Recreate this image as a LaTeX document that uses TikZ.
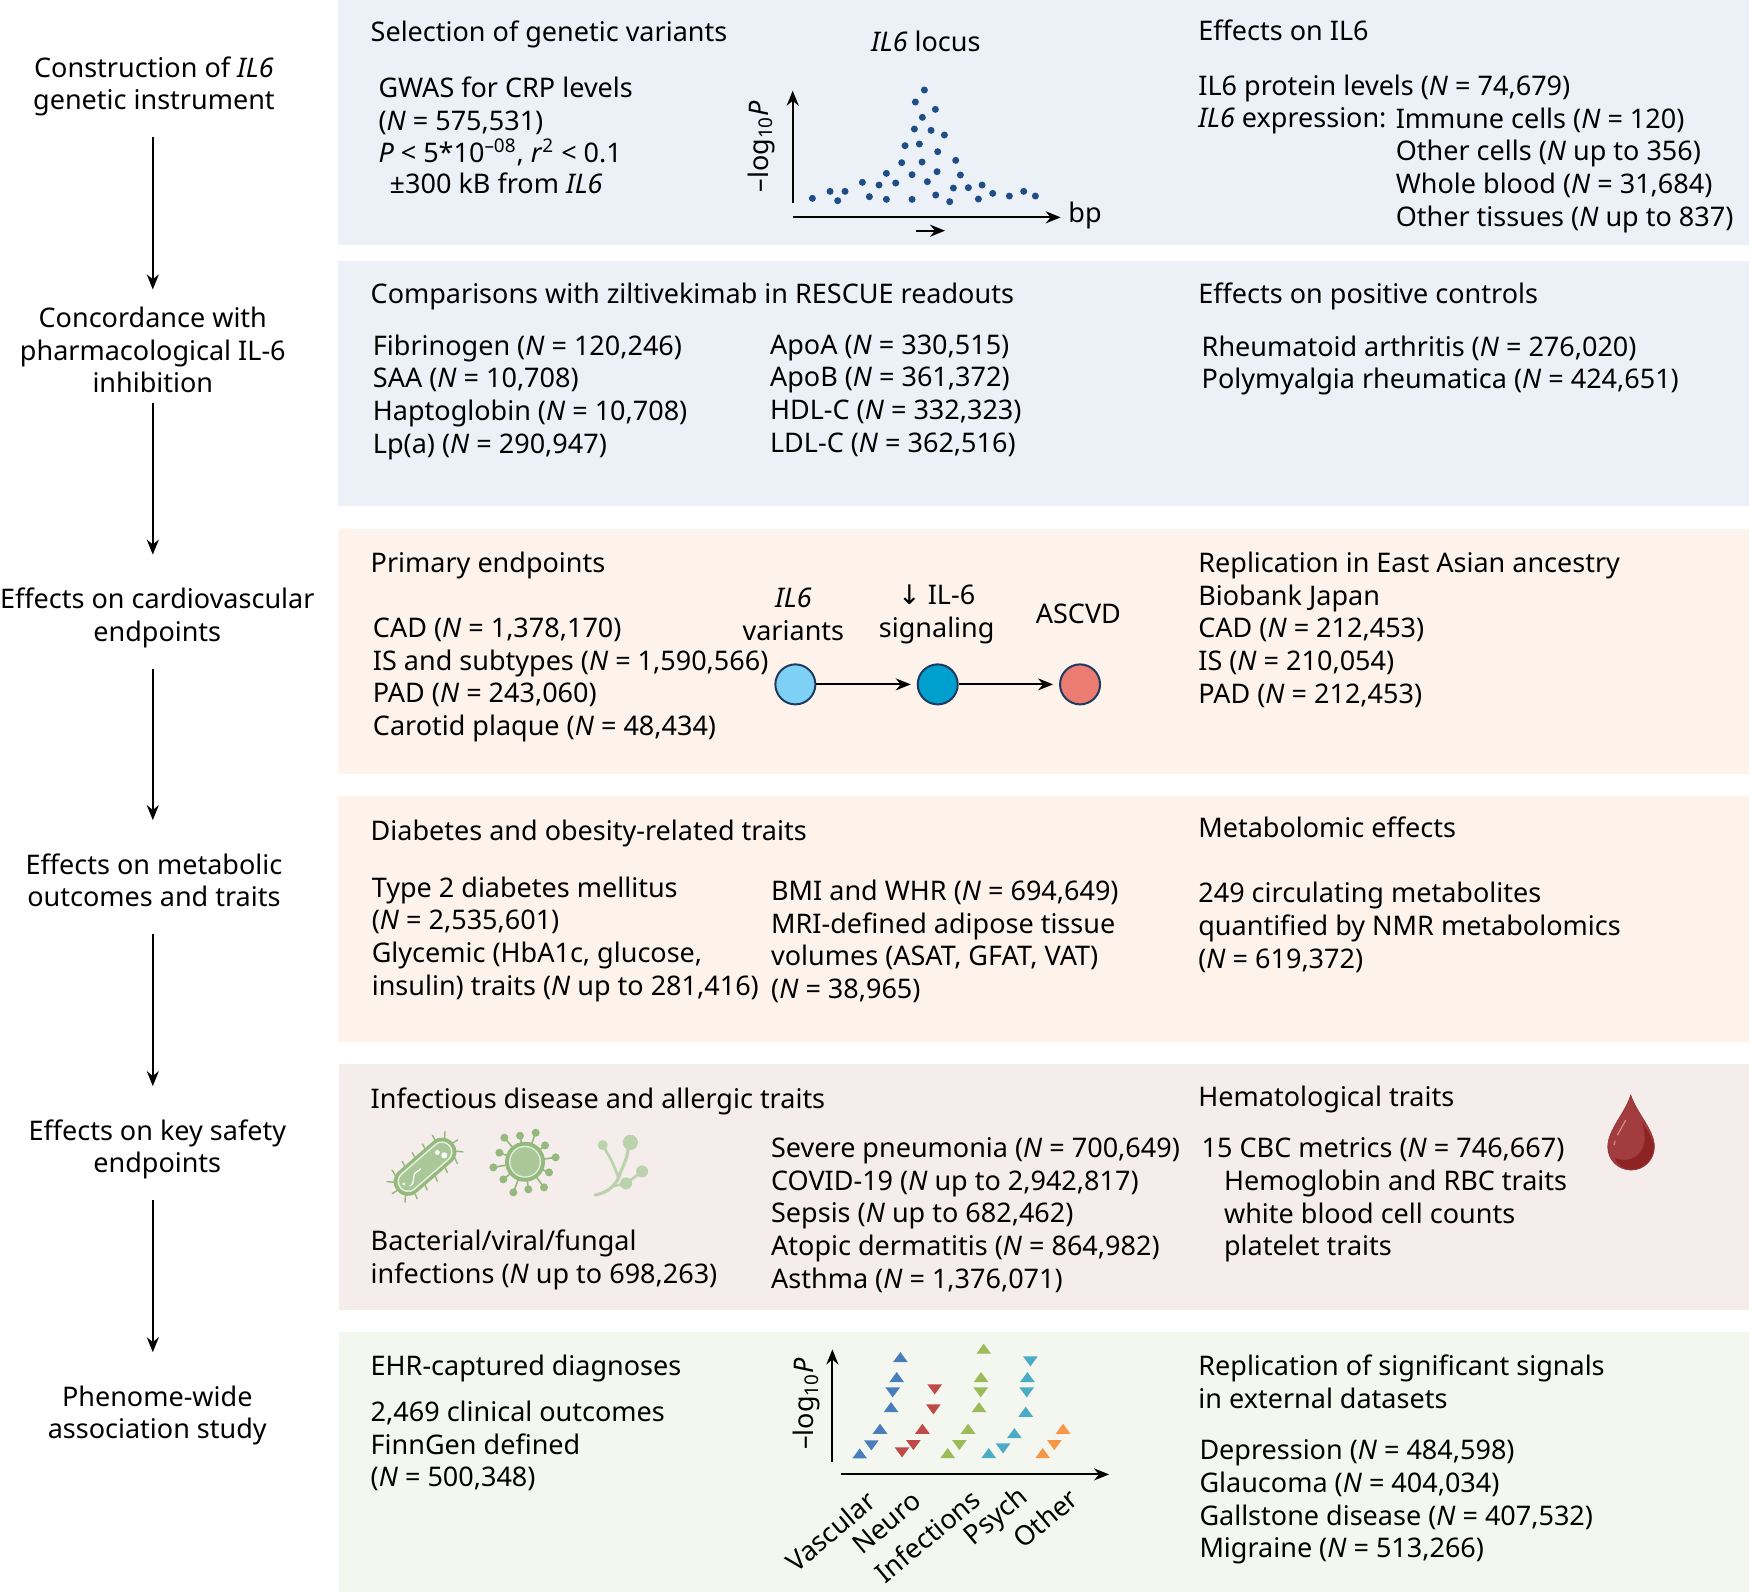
\documentclass[tikz,border=0pt]{standalone}
\usepackage{fontspec}
\setmainfont{Noto Sans}
\newfontfamily\symfont{DejaVu Sans}
\usetikzlibrary{arrows.meta,positioning,calc}
\definecolor{panelblue}{HTML}{ECF1F8}
\definecolor{panelorange}{HTML}{FEF3EB}
\definecolor{panelpink}{HTML}{F5ECEC}
\definecolor{panelgreen}{HTML}{F4F7F0}
\definecolor{dotblue}{HTML}{1F4E86}
\definecolor{ringnavy}{HTML}{1F3A5F}
\definecolor{bubblelight}{HTML}{7FD0F5}
\definecolor{bubblemid}{HTML}{00A0CE}
\definecolor{bubblered}{HTML}{EC7B72}
\definecolor{iconfill}{HTML}{AAC797}
\definecolor{icondark}{HTML}{93B97C}
\definecolor{iconpale}{HTML}{BAD3AC}
\definecolor{dropmain}{HTML}{A23C3E}
\definecolor{dropdark}{HTML}{8E2323}
\definecolor{droplight}{HTML}{D98A8A}
\definecolor{mkblue}{HTML}{4A7EBB}
\definecolor{mkred}{HTML}{BE4B48}
\definecolor{mkgreen}{HTML}{9BBB59}
\definecolor{mkteal}{HTML}{4BACC6}
\definecolor{mkorange}{HTML}{F79646}
\newcommand{\Nn}{\textit{N}}
\newcommand{\logP}{–log\textsubscript{10}\textit{P}}
\tikzset{
bodyfont/.style={font=\fontsize{13.5}{16.35}\selectfont},
txt/.style={bodyfont,anchor=north west,inner sep=0pt,align=left,yshift=6.4pt,execute at begin node=\strut},
steplabel/.style={bodyfont,align=center,inner xsep=0pt,inner ysep=8.5pt,execute at begin node=\strut},
flow/.style={-{Stealth[length=7.5pt,width=6pt]},line width=1pt},
axis/.style={-{Stealth[length=7.5pt,width=6pt]},line width=1pt},
bubble/.style={circle,draw=ringnavy,line width=1pt,minimum size=20pt,inner sep=0pt},
}
\begin{document}
\begin{tikzpicture}[x=0.5577pt,y=-0.5577pt]
\useasboundingbox (0,0) rectangle (1568,1427);
\fill[panelblue] (303,0) rectangle (1568,220);
\fill[panelblue] (303,234) rectangle (1568,454);
\fill[panelorange] (303,474) rectangle (1568,694);
\fill[panelorange] (303,714) rectangle (1568,934);
\fill[panelpink] (304,954) rectangle (1568,1174);
\fill[panelgreen] (304,1194) rectangle (1568,1427);
\node[steplabel] (l1) at (138,79) {Construction of \textit{IL6}\\genetic instrument};
\node[steplabel] (l2) at (137,318) {Concordance with\\pharmacological IL-6\\inhibition};
\node[steplabel] (l3) at (141,555.5) {Effects on cardiovascular\\endpoints};
\node[steplabel] (l4) at (138,793.5) {Effects on metabolic\\outcomes and traits};
\node[steplabel] (l5) at (141,1032) {Effects on key safety\\endpoints};
\node[steplabel] (l6) at (141,1270.5) {Phenome-wide\\association study};
\path[flow]
(l1.south -| l2) edge (l2.north)
(l2.south) edge[shorten <=-8.5pt,shorten >=8pt] (l3.north -| l2)
(l3.south -| l2) edge[shorten >=8pt] (l4.north -| l2)
(l4.south -| l2) edge[shorten >=8pt] (l5.north -| l2)
(l5.south -| l2) edge[shorten >=8pt] (l6.north -| l2);
\node[txt] (t11) at (332,28) {Selection of genetic variants};
\node[txt] (t12) at (339,80) {GWAS for CRP levels\\(\Nn{} = 575,531)\\\textit{P} < 5*10\textsuperscript{–08}, \textit{r}\textsuperscript{2} < 0.1\\[-0.9pt]\hspace*{5.6pt}±300 kB from \textit{IL6}};
\node[txt,anchor=north] (t13) at (830,37) {\textit{IL6} locus};
\node[txt] (t14) at (1074,27) {Effects on IL6};
\node[txt] (t15) at (1074,78) {IL6 protein levels (\Nn{} = 74,679)\\\textit{IL6} expression:};
\node[txt] (t16) at (1251,107.5) {Immune cells (\Nn{} = 120)\\Other cells (\Nn{} up to 356)\\Whole blood (\Nn{} = 31,684)\\Other tissues (\Nn{} up to 837)};
\node[txt] (t21) at (332,263) {Comparisons with ziltivekimab in RESCUE readouts};
\node[txt] (t22) at (334,311) {Fibrinogen (\Nn{} = 120,246)\\SAA (\Nn{} = 10,708)\\Haptoglobin (\Nn{} = 10,708)\\Lp(a) (\Nn{} = 290,947)};
\node[txt] (t23) at (690,311) {ApoA (\Nn{} = 330,515)\\ApoB (\Nn{} = 361,372)\\HDL-C (\Nn{} = 332,323)\\LDL-C (\Nn{} = 362,516)};
\node[txt] (t24) at (1074,263) {Effects on positive controls};
\node[txt] (t25) at (1077,312) {Rheumatoid arthritis (\Nn{} = 276,020)\\Polymyalgia rheumatica (\Nn{} = 424,651)};
\node[txt] (t31) at (332,504) {Primary endpoints};
\node[txt] (t32) at (334,565) {CAD (\Nn{} = 1,378,170)\\IS and subtypes (\Nn{} = 1,590,566)\\PAD (\Nn{} = 243,060)\\Carotid plaque (\Nn{} = 48,434)};
\node[txt] (t33) at (1074,506) {Replication in East Asian ancestry\\Biobank Japan\\CAD (\Nn{} = 212,453)\\IS (\Nn{} = 210,054)\\PAD (\Nn{} = 212,453)};
\node[txt] (t41) at (332,744) {Diabetes and obesity-related traits};
\node[txt] (t42) at (333,797) {Type 2 diabetes mellitus\\(\Nn{} = 2,535,601)\\Glycemic (HbA1c, glucose,\\insulin) traits (\Nn{} up to 281,416)};
\node[txt] (t43) at (691,800) {BMI and WHR (\Nn{} = 694,649)\\MRI-defined adipose tissue\\volumes (ASAT, GFAT, VAT)\\(\Nn{} = 38,965)};
\node[txt] (t44) at (1074,741) {Metabolomic effects};
\node[txt] (t45) at (1074,802) {249 circulating metabolites\\quantified by NMR metabolomics\\(\Nn{} = 619,372)};
\node[txt] (t51) at (332,984) {Infectious disease and allergic traits};
\node[txt] (t52) at (332,1114) {Bacterial/viral/fungal\\infections (\Nn{} up to 698,263)};
\node[txt] (t53) at (691,1031) {Severe pneumonia (\Nn{} = 700,649)\\COVID-19 (\Nn{} up to 2,942,817)\\Sepsis (\Nn{} up to 682,462)\\Atopic dermatitis (\Nn{} = 864,982)\\Asthma (\Nn{} = 1,376,071)};
\node[txt] (t54) at (1074,983) {Hematological traits};
\node[txt] (t55) at (1077,1028) {15 CBC metrics (\Nn{} = 746,667)};
\node[txt] (t56) at (1097,1060) {Hemoglobin and RBC traits\\white blood cell counts\\platelet traits};
\node[txt] (t61) at (332,1224) {EHR-captured diagnoses};
\node[txt] (t62) at (332,1267) {2,469 clinical outcomes\\FinnGen defined\\(\Nn{} = 500,348)};
\node[txt] (t63) at (1074,1226) {Replication of significant signals\\in external datasets};
\node[txt] (t64) at (1075,1302) {Depression (\Nn{} = 484,598)\\Glaucoma (\Nn{} = 404,034)\\Gallstone disease (\Nn{} = 407,532)\\Migraine (\Nn{} = 513,266)};
\begin{scope}[shift={(350pt,-10pt)},x=0.16667pt,y=-0.16667pt]
\coordinate (lorig) at (278,548);
\coordinate (ltop) at (278,212);
\coordinate (bleft) at (278,592);
\coordinate (bright) at (1082,592);
\coordinate (gleft) at (648,632);
\coordinate (gright) at (735,632);
\draw[axis] (lorig) -- (ltop);
\draw[axis] (bleft) -- (bright);
\draw[axis] (gleft) -- (gright);
\node[bodyfont,rotate=90,inner sep=0pt] (ylocus) at (183,380) {\logP};
\node[bodyfont,inner sep=0pt] (bp) at (1155,585) {bp};
\foreach \px/\py in {337/535,390/514,413/542,435/514,487/487,508/530,537/495,559/460,559/538,587/489,605/428,615/377,636/464,636/538,643/327,646/246,658/372,666/426,667/292,673/210,682/485,693/331,706/268,711/455,713/395,707/525,733/345,749/545,760/504,767/421,781/465,805/503,835/537,846/495,878/520,928/528,971/514,1006/528}
\fill[dotblue] (\px,\py) circle[radius=1.75pt];
\end{scope}
\begin{scope}[shift={(370pt,-285pt)},x=0.16667pt,y=-0.16667pt]
\node[bubble,fill=bubblelight] (c1) at (166,343) {};
\node[bubble,fill=bubblemid] (c2) at (593,343) {};
\node[bubble,fill=bubblered] (c3) at (1020,343) {};
\draw[flow,shorten >=3pt] (c1) -- (c2);
\draw[flow,shorten >=3pt] (c2) -- (c3);
\node[bodyfont,align=center,inner sep=0pt] (v1) at (160,134) {\textit{IL6}\\variants};
\node[bodyfont,align=center,inner sep=0pt] (v2) at (590,134) {{\symfont ↓} IL-6\\signaling};
\node[bodyfont,inner sep=0pt] (v3) at (1015,132) {ASCVD};
\end{scope}
\begin{scope}[shift={(380pt,-665pt)},x=0.16667pt,y=-0.16667pt]
\coordinate (porig) at (217,397);
\coordinate (ptop) at (217,58);
\coordinate (pleft) at (242,433);
\coordinate (pright) at (1047,433);
\draw[axis] (porig) -- (ptop);
\draw[axis] (pleft) -- (pright);
\node[bodyfont,rotate=90,inner sep=0pt] (yphe) at (140,222) {\logP};
\node[bodyfont,rotate=40,anchor=east,inner sep=0pt] (g1) at (335,500) {Vascular};
\node[bodyfont,rotate=40,anchor=east,inner sep=0pt] (g2) at (472,500) {Neuro};
\node[bodyfont,rotate=40,anchor=east,inner sep=0pt] (g3) at (648,495) {Infections};
\node[bodyfont,rotate=40,anchor=east,inner sep=0pt] (g4) at (795,492) {Psych};
\node[bodyfont,rotate=40,anchor=east,inner sep=0pt] (g5) at (942,492) {Other};
\foreach \col/\px/\py in {mkblue/299/370,mkblue/360/296,mkblue/393/231,mkblue/410/141,mkblue/421/81,mkred/487/296,mkgreen/563/369,mkgreen/624/296,mkgreen/657/231,mkgreen/663/141,mkgreen/671/56,mkteal/686/369,mkteal/763/309,mkteal/797/245,mkteal/802/141,mkorange/848/369,mkorange/909/296}
\fill[\col] (\px-22,\py+15) -- (\px+22,\py+15) -- (\px,\py-15) -- cycle;
\foreach \col/\px/\py in {mkblue/334/346,mkblue/398/187,mkred/426/367,mkred/460/345,mkred/520/238,mkred/524/178,mkgreen/598/345,mkgreen/662/187,mkteal/729/355,mkteal/800/187,mkteal/811/94,mkorange/883/345}
\fill[\col] (\px-22,\py-15) -- (\px+22,\py-15) -- (\px,\py+15) -- cycle;
\end{scope}
\begin{scope}[shift={(185pt,-555pt)},x=0.16667pt,y=-0.16667pt]
\begin{scope}[shift={(165,170)},rotate=41]
\foreach \s in {-75,-35,5,45,85}
\draw[icondark,line width=0.7pt] (\s,38) -- (\s-6,58) (\s-10,-38) -- (\s-6,-58);
\draw[icondark,line width=0.7pt] (105,0) -- (128,4) (-105,0) -- (-128,-4) (100,25) -- (116,42) (-100,25) -- (-116,42) (100,-25) -- (116,-42) (-100,-25) -- (-116,-42);
\fill[icondark,rounded corners=6.6pt] (-110,-42) rectangle (110,42);
\fill[white!70!iconfill,rounded corners=5.2pt] (-99,-32) rectangle (99,32);
\fill[iconfill,rounded corners=4.4pt] (-94,-27) rectangle (94,27);
\fill[white] (56,-8) circle[radius=1.2pt] (66,12) circle[radius=1.5pt] (-82,-3) circle[radius=0.8pt];
\draw[white,line width=0.6pt,line cap=round] (-72,14) .. controls (-50,18) and (-50,-8) .. (-28,-5) .. controls (-22,-4) and (-18,-2) .. (-14,-4);
\end{scope}
\foreach \bx/\by in {403/83,450/77,497/68,525/106,557/142,537/187,522/232,475/238,430/247,400/208,370/172,388/128}
{\draw[icondark,line width=0.8pt] (465,155) -- (\bx,\by);
\fill[icondark] (\bx,\by) circle[radius=2pt];}
\fill[icondark] (465,155) circle[radius=10pt];
\fill[white!70!iconfill] (465,155) circle[radius=8pt];
\fill[iconfill] (465,155) circle[radius=7.3pt];
\draw[iconpale,line width=1.6pt,line cap=round] (675,255) .. controls (710,248) and (730,232) .. (745,205) .. controls (755,170) and (770,160) .. (775,110);
\draw[iconpale,line width=1.3pt] (745,205) .. controls (735,170) and (720,140) .. (700,110);
\draw[iconpale,line width=1.3pt] (730,228) -- (768,220) -- (812,188);
\fill[iconpale] (781,97) circle[radius=3.8pt] (698,105) circle[radius=2.5pt] (768,220) circle[radius=3pt] (816,184) circle[radius=3pt];
\end{scope}
\begin{scope}[shift={(780pt,-540pt)},x=0.16667pt,y=-0.16667pt]
\fill[dropmain,draw=dropmain!85!black,line width=0.3pt] (212,45) .. controls (195,100) and (143,150) .. (143,200) .. controls (143,240) and (175,270) .. (213,270) .. controls (251,270) and (283,240) .. (283,200) .. controls (283,150) and (230,100) .. (212,45) -- cycle;
\fill[dropdark] (245,125) .. controls (262,150) and (281,180) .. (281,200) .. controls (281,238) and (250,268) .. (213,268) .. controls (190,268) and (172,255) .. (163,232) .. controls (205,255) and (280,225) .. (245,125) -- cycle;
\draw[droplight,line width=0.6pt] (197,120) -- (172,165);
\draw[droplight,line width=0.6pt] (165,182) -- (162,195);
\end{scope}
\end{tikzpicture}
\end{document}
